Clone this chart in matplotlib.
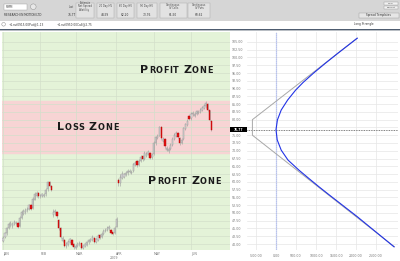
import matplotlib
matplotlib.use('Agg')
import matplotlib.pyplot as plt
from matplotlib.patches import Rectangle, Circle

W, H = 400, 261

# daily candles, Jan - mid Jun 2009
opens = [41.0, 42.2, 43.4, 45.2, 46.2, 45.8, 46.4, 46.6, 46.9, 45.8,
         48.4, 49.8, 50.3, 50.8, 51.3, 52.6, 51.6, 54.3, 55.6, 56.4,
         55.3, 55.4, 55.6, 56.0, 57.6, 59.9, 58.7, 49.4, 50.2, 50.2,
         47.8, 45.2, 41.0, 41.4, 39.2, 39.9, 40.6, 41.4, 40.0, 38.8,
         39.4, 39.9, 40.2, 38.7, 39.2, 39.8, 40.5, 41.0, 41.4, 42.0,
         40.7, 41.4, 42.9, 42.1, 43.2, 44.1, 44.5, 45.1, 44.6, 43.8,
         43.4, 45.6, 60.6, 59.6, 61.3, 61.7, 62.3, 62.7, 63.2, 62.8,
         63.4, 65.5, 66.6, 65.5, 66.7, 68.4, 67.3, 68.4, 68.9, 69.3,
         67.9, 69.0, 72.4, 74.1, 74.9, 77.6, 73.2, 73.9, 70.2, 69.9,
         70.6, 71.8, 73.7, 74.9, 75.7, 74.2, 72.5, 73.8, 77.0, 78.4,
         81.2, 80.4, 81.7, 81.3, 81.9, 82.3, 82.6, 83.1, 83.7, 84.3,
         85.1, 83.0, 79.6]
closes = [42.0, 43.5, 45.0, 46.5, 46.8, 46.3, 47.2, 46.8, 45.6, 48.5,
          50.2, 50.6, 51.0, 51.4, 52.5, 51.4, 54.5, 56.0, 56.4, 55.3,
          55.6, 56.0, 55.8, 57.5, 59.8, 58.8, 57.4, 50.4, 50.5, 49.0,
          45.0, 42.4, 41.8, 39.4, 40.0, 40.7, 41.6, 39.8, 38.9, 39.5,
          40.0, 40.4, 38.8, 39.3, 39.9, 40.6, 41.2, 41.5, 42.4, 40.6,
          41.5, 42.6, 42.0, 43.3, 44.3, 44.6, 45.2, 45.4, 43.6, 43.3,
          45.3, 48.2, 59.6, 61.5, 62.5, 62.4, 62.8, 63.4, 63.6, 63.3,
          65.6, 66.2, 65.4, 66.8, 68.0, 67.2, 69.3, 68.8, 69.5, 67.8,
          68.7, 72.5, 74.3, 74.8, 77.5, 74.2, 73.9, 71.4, 70.8, 70.5,
          71.9, 73.8, 75.0, 75.8, 74.4, 72.4, 73.6, 77.2, 78.5, 79.5,
          80.3, 81.9, 82.1, 81.8, 82.7, 82.6, 83.2, 83.8, 84.4, 85.4,
          83.2, 80.0, 76.77]
highs = [42.6, 44.0, 45.6, 47.0, 47.5, 47.0, 47.8, 47.4, 47.1, 49.0,
         50.8, 51.2, 51.6, 52.0, 53.0, 53.0, 55.0, 56.6, 57.0, 56.8,
         56.2, 56.5, 56.4, 58.0, 60.4, 60.2, 58.9, 51.2, 51.1, 50.6,
         48.0, 45.4, 42.5, 41.6, 40.6, 41.2, 42.0, 41.7, 40.3, 40.1,
         40.5, 40.9, 40.4, 39.8, 40.4, 41.0, 41.7, 42.0, 42.8, 42.2,
         42.0, 43.1, 43.2, 43.8, 44.8, 45.2, 45.7, 46.0, 44.9, 44.0,
         45.8, 48.8, 61.2, 62.4, 63.4, 63.0, 63.4, 64.0, 64.2, 63.9,
         66.2, 66.8, 66.9, 67.3, 68.6, 68.7, 69.9, 69.5, 70.1, 69.6,
         69.2, 73.1, 74.9, 75.4, 78.1, 77.9, 74.5, 74.1, 71.4, 71.1,
         72.4, 74.3, 75.6, 76.4, 76.0, 74.5, 74.2, 77.7, 79.0, 80.1,
         81.6, 82.5, 82.7, 82.4, 83.2, 83.1, 83.8, 84.3, 85.0, 86.0,
         85.4, 83.2, 79.9]
lows = [40.5, 41.8, 43.0, 44.8, 45.6, 45.3, 46.0, 46.0, 45.0, 45.5,
        48.0, 49.3, 49.8, 50.3, 51.0, 50.8, 51.2, 54.0, 55.2, 54.9,
        54.8, 55.0, 55.1, 55.6, 57.2, 58.3, 56.9, 48.6, 49.4, 48.4,
        44.6, 42.0, 40.6, 38.9, 38.8, 39.5, 40.2, 39.3, 38.4, 38.5,
        39.0, 39.5, 38.4, 38.4, 38.9, 39.5, 40.1, 40.6, 41.0, 40.2,
        40.3, 41.1, 41.6, 41.8, 42.9, 43.8, 44.1, 44.6, 43.2, 42.9,
        43.1, 45.4, 58.6, 58.8, 60.8, 61.2, 61.9, 62.3, 62.8, 62.4,
        63.1, 65.1, 64.9, 65.1, 66.3, 66.8, 67.0, 68.0, 68.5, 67.2,
        67.5, 68.7, 72.0, 73.7, 74.6, 73.8, 72.8, 71.0, 69.8, 69.4,
        70.2, 71.4, 73.3, 74.5, 74.0, 71.9, 72.1, 73.5, 76.6, 78.0,
        79.8, 80.0, 81.3, 80.9, 81.5, 81.9, 82.2, 82.7, 83.3, 83.9,
        82.8, 79.6, 76.3]

months = ['JAN', 'FEB', 'MAR', 'APR', 'MAY', 'JUN']
month_pos = [0, 20, 39, 60.5, 81, 101]
last_price = 76.77
loss_zone = (69.2, 85.9)

# payoff at expiry (grey) and today (blue): price -> P&L
exp_price = [106.2, 80.0, 75.0, 39.1]
exp_pnl = [2030, -590, -590, 2960]
now_price = [106.2, 101.4, 98.1, 95.0, 92.0, 89.5, 86.3, 83.1, 79.9, 76.77,
             73.5, 70.2, 67.0, 63.8, 61.1, 58.4, 55.8, 48.8, 39.1]
now_pnl = [2030, 1550, 1230, 940, 680, 490, 290, 130, 35, 0,
           30, 130, 300, 570, 820, 1075, 1330, 2030, 2950]

header_cols = [('Last', '76.77'), ('Estimate\nNet Spread\nVolatility', ''),
               ('20 Day HV', '44.59'), ('60 Day HV', '62.20'), ('90 Day HV', '73.76'),
               ('Continuous\nIV Calls', '61.50'), ('Continuous\nIV Puts', '60.62')]

fig = plt.figure(figsize=(4, 2.61), dpi=100)
fig.patch.set_facecolor('white')


def rect(x0, y0, x1, y1):
    return [x0 / W, 1 - y1 / H, (x1 - x0) / W, (y1 - y0) / H]


ymin, ymax = 38.07, 108.2
yticks = [40 + 2.5 * k for k in range(27)]

# price chart
ax = fig.add_axes(rect(2, 32, 230, 250))
ax.set_facecolor('#e4f3d8')
ax.axhspan(loss_zone[0], loss_zone[1], color='#f7d4d4', zorder=0)
ax.set_xlim(-0.55, 122)
ax.set_ylim(ymin, ymax)
ax.set_yticks(yticks)
# 77.50 sits under the last-price tag
ax.set_yticklabels(['' if v == 77.5 else '%.2f' % v for v in yticks], fontsize=2.3, color='#777777')
ax.yaxis.tick_right()
ax.set_xticks(month_pos)
ax.set_xticklabels(months, fontsize=2.3, color='#777777', ha='left')
ax.tick_params(length=0, pad=1.2)
ax.grid(True, color='#d3dfcb', lw=0.5)
for s in ax.spines.values():
    s.set_visible(False)

idx = list(range(len(closes)))
ax.vlines(idx, lows, highs, color='#9c9c9c', lw=0.4, zorder=2)
up = [i for i in idx if closes[i] >= opens[i]]
dn = [i for i in idx if closes[i] < opens[i]]
ax.bar(up, [max(closes[i] - opens[i], 0.2) for i in up], bottom=[opens[i] for i in up],
       width=0.7, color='#dcdcdc', edgecolor='#929292', lw=0.3, zorder=3)
ax.bar(dn, [max(opens[i] - closes[i], 0.2) for i in dn], bottom=[closes[i] for i in dn],
       width=0.7, color='#e01414', edgecolor='#b80000', lw=0.3, zorder=3)

# payoff chart
ax2 = fig.add_axes(rect(247, 32, 398, 250))
ax2.set_xlim(-725, 3050)
ax2.set_ylim(ymin, ymax)
ax2.set_yticks(yticks)
ax2.set_yticklabels([])
xt = [-500, 0, 500, 1000, 1500, 2000, 2500]
ax2.set_xticks(xt)
ax2.set_xticklabels(['%.2f' % v for v in xt], fontsize=2.3, color='#777777')
ax2.tick_params(length=0, pad=3)
ax2.grid(True, color='#e6e6e6', lw=0.5)
for s in ax2.spines.values():
    s.set_visible(False)
ax2.axvline(0, color='#a9b6ee', lw=0.9, ls=(0, (1, 0.6)))
ax2.axhline(last_price, color='#555555', lw=0.6, ls=(0, (1, 1)))
ax2.plot(exp_pnl, exp_price, color='#a8a8a8', lw=0.7)
ax2.plot(now_pnl, now_price, color='#2233e6', lw=0.8)

# overlay in pixel coords for header and labels
ov = fig.add_axes([0, 0, 1, 1], zorder=10)
ov.set_xlim(0, W)
ov.set_ylim(H, 0)
ov.axis('off')

ov.add_patch(Rectangle((0, 0), W, 20.5, color='#d6d6d6', lw=0))
ov.add_patch(Rectangle((4, 4), 22.5, 5.5, facecolor='white', edgecolor='#9a9a9a', lw=0.3))
ov.text(6, 6.9, 'RIMM', fontsize=2, color='#444444', va='center')
ov.add_patch(Circle((33.3, 6.7), 2.8, facecolor='#e8e8e8', edgecolor='#888888', lw=0.3))
ov.text(4, 14.7, 'RESEARCH IN MOTION LTD', fontsize=2.1, color='#333333', va='center')

col_x = [(61, 74), (76, 94), (96.7, 114), (116.7, 134), (136.7, 156.7), (160, 186.7), (188.3, 210)]
for (x0, x1), (lab, val) in zip(col_x, header_cols):
    if lab != 'Last':
        ov.add_patch(Rectangle((x0, 2.5), x1 - x0, 15, facecolor='#e2e2e2', edgecolor='#a8a8a8', lw=0.3))
    ov.text((x0 + x1) / 2 + (4 if lab == 'Last' else 0), 6.5, lab, fontsize=1.8, color='#444444',
            ha='center', va='center', linespacing=0.9)
    ov.text((x0 + x1) / 2 + (4 if lab == 'Last' else 0), 14.7, val, fontsize=2.1, color='#333333',
            ha='center', va='center')

ov.add_patch(Rectangle((384, 1.5), 14, 3, facecolor='#f2f2f2', edgecolor='#999999', lw=0.3))
ov.text(391, 3, 'Final', fontsize=1.7, ha='center', va='center', color='#444444')
ov.add_patch(Rectangle((384, 5.7), 14, 3.3, facecolor='#f2f2f2', edgecolor='#999999', lw=0.3))
ov.text(391, 7.3, 'Current', fontsize=1.7, ha='center', va='center', color='#444444')
ov.add_patch(Rectangle((359, 13), 39.5, 4.5, facecolor='#e6e6e6', edgecolor='#999999', lw=0.3))
ov.text(378.7, 15.3, 'Spread Templates', fontsize=2, ha='center', va='center', color='#333333')

ov.add_patch(Circle((3.6, 24.3), 1.8, facecolor='white', edgecolor='#777777', lw=0.3))
ov.text(9, 24.3, '+1.rut0915.00Put@1.13', fontsize=2.1, va='center', color='#333333')
ov.text(56.5, 24.3, '+1.rut0950.00Call@2.75', fontsize=2.1, va='center', color='#333333')
ov.text(354, 24.3, 'Long Strangle', fontsize=2.1, va='center', color='#333333')
ov.add_patch(Rectangle((0, 28.6), W, 1.3, color='#4e5d70', lw=0))
ov.add_patch(Rectangle((0, 29.9), W, 1.2, color='#b9bec4', lw=0))

# current price tag
ov.add_patch(Rectangle((230, 127), 17, 5, color='black', lw=0))
ov.text(238.5, 129.6, '%.2f' % last_price, fontsize=2.2, color='white', ha='center',
        va='center', fontweight='bold')
ov.text(110, 258, '2009', fontsize=2.3, color='#777777', va='center')

renderer = fig.canvas.get_renderer()


def smallcaps(x, y, words, big=7.9, small=5.9):
    for w in words:
        for j, ch in enumerate(w):
            t = ov.text(x, y, ch, fontsize=big if j == 0 else small, fontweight='bold',
                        color='#1a1a1a', va='baseline', family='DejaVu Sans')
            x += t.get_window_extent(renderer).width + 0.7
        x += 3.5


smallcaps(140, 73.4, ['PROFIT', 'ZONE'])
smallcaps(57, 129.5, ['LOSS', 'ZONE'])
smallcaps(148, 183.5, ['PROFIT', 'ZONE'])

fig.savefig('out.png', dpi=100)
